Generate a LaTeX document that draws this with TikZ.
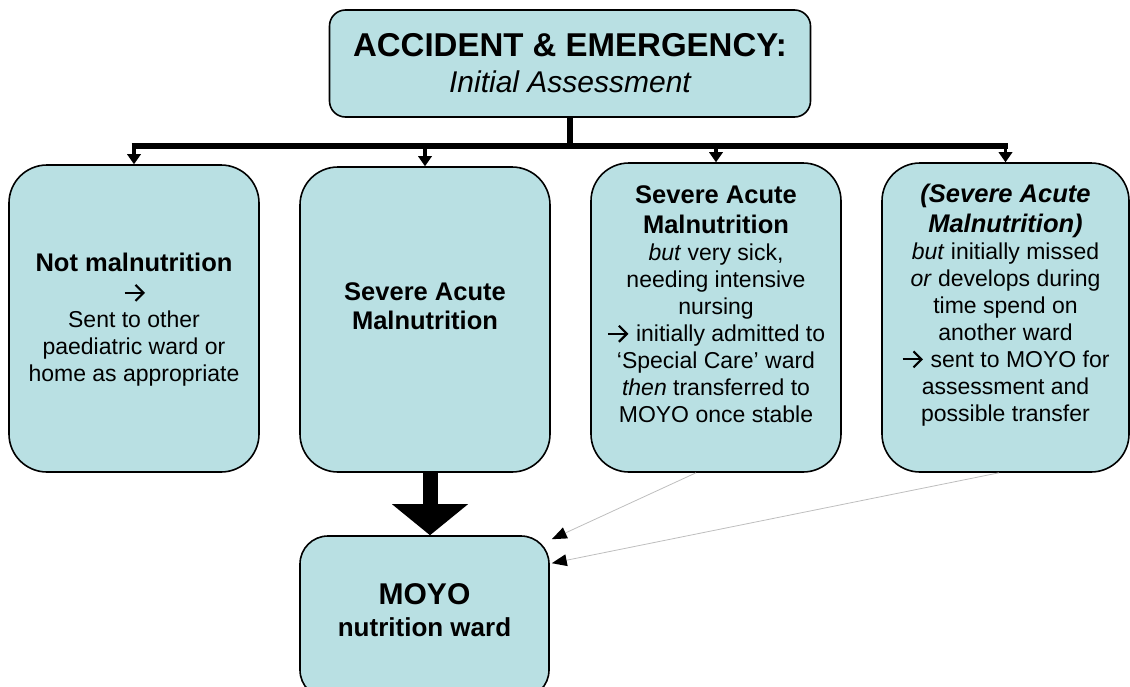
\documentclass[tikz,border=0pt]{standalone}
\usepackage{fontspec}
\setmainfont{Liberation Sans}
\usetikzlibrary{arrows.meta,calc}
\definecolor{wardfill}{RGB}{185,224,227}
\definecolor{linkgray}{RGB}{190,190,190}
% bold heading line inside a ward box
\newcommand\boxhead[1]{{\fontsize{25.5}{28}\selectfont\bfseries #1}}
% open arrow sign used inside the box texts
\newcommand\goesto{\tikz[x=1pt,y=1pt,baseline=0pt]{%
  \draw[line width=2.2pt] (0,8) -- (19,8);
  \draw[line width=2.2pt, line join=miter] (11,16) -- (19,8) -- (11,0);}}
\begin{document}
\begin{tikzpicture}[x=1pt,y=-1pt,
  ward/.style={draw=black, line width=1.6pt, fill=wardfill, rounded corners=38pt, inner sep=0pt},
  txt/.style={align=center, inner sep=0pt, font=\fontsize{23}{27}\selectfont},
  bus/.style={line width=5.5pt},
  branch/.style={line width=3.5pt, -{Triangle[width=14pt,length=10pt,line width=0pt]}},
  mainflow/.style={line width=15pt, -{Triangle[width=76pt,length=31pt,line width=0pt]}},
  lateflow/.style={draw=linkgray, line width=0.8pt,
    -{Triangle[width=12pt,length=15pt,line width=0pt,color=black,fill=black]}}
]
\useasboundingbox (0,0) rectangle (1130,686);
\clip (0,0) rectangle (1130,686);

% entry point
\node[ward, rounded corners=16pt, minimum width=481pt, minimum height=107pt,
      align=center, font=\fontsize{33}{36}\selectfont\bfseries] (top) at (570,63.5)
  {ACCIDENT \& EMERGENCY:\\{\fontsize{30}{34}\selectfont\mdseries\itshape Initial Assessment}};

% outcome boxes
\node[ward, minimum width=250pt, minimum height=307pt] (b1) at (134,318.5) {};
\node[ward, minimum width=250pt, minimum height=305pt] (b2) at (425,319.5) {};
\node[ward, minimum width=250pt, minimum height=309pt] (b3) at (716,317.5) {};
\node[ward, minimum width=247pt, minimum height=309pt] (b4) at (1005.5,317.5) {};
\node[ward, rounded corners=28pt, minimum width=249pt, minimum height=162pt] (moyo) at (424.5,617) {};

% box texts
\node[txt] (t1) at ($(b1)+(0,1.5)$)
  {\boxhead{Not malnutrition}\\[2pt] \goesto\\ Sent to other\\ paediatric ward or\\ home as appropriate};
\node[txt] (t2) at ($(b2)+(0,-13)$)
  {\boxhead{Severe Acute}\\[2pt] \boxhead{Malnutrition}};
\node[txt] (t3) at ($(b3)+(0,-13)$)
  {\boxhead{Severe Acute}\\[3pt] \boxhead{Malnutrition}\\ \textit{but} very sick,\\
   needing intensive\\ nursing\\ \goesto\hspace{8pt}initially admitted to\\ ‘Special Care’ ward\\
   \textit{then} transferred to\\ MOYO once stable};
\node[txt] (t4) at ($(b4)+(0,-12.5)$)
  {\boxhead{\itshape(Severe Acute}\\[3pt] \boxhead{\itshape Malnutrition)}\\ \textit{but} initially missed\\
   \textit{or} develops during\\ time spend on\\ another ward\\ \goesto\hspace{8pt}sent to MOYO for\\
   assessment and\\ possible transfer};
\node[align=center, inner sep=0pt, font=\bfseries\fontsize{30}{32}\selectfont] (tm) at (424.5,610)
  {MOYO\\ {\fontsize{26}{30}\selectfont nutrition ward}};

% branching from the initial assessment
\coordinate (bus) at (570,146);
\draw[bus] (top.south) -- (top.south |- bus);
\draw[bus] ($(b1.north |- bus)+(-2.5,0)$) -- ($(b4.north |- bus)+(2.5,0)$);
\foreach \b in {b1,b2,b3,b4}
  \draw[branch] (\b.north |- bus) -- (\b.north);

% admission to the nutrition ward
\draw[mainflow] ($(b2.south)+(5,0)$) -- ($(moyo.north)+(5.5,0)$);
\draw[lateflow] ($(b3.south)+(-20,0)$) -- ($(moyo.north east)+(2,4)$);
\draw[lateflow] ($(b4.south)+(-6.5,0)$) -- ($(moyo.north east)+(2,28)$);
\end{tikzpicture}
\end{document}
